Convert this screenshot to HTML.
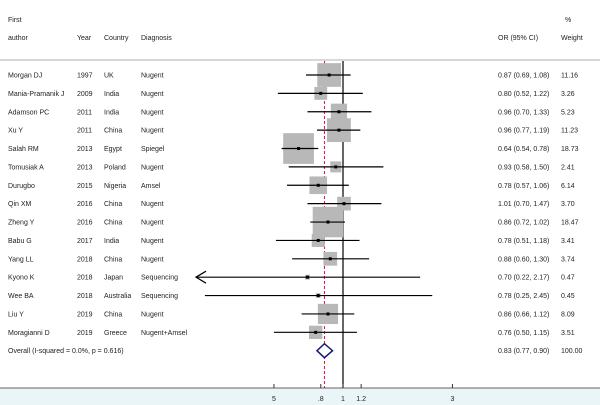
<!DOCTYPE html>
<html><head><meta charset="utf-8"><style>
html,body{margin:0;padding:0;background:#fff;}
svg{display:block;font-family:"Liberation Sans",sans-serif;}
</style></head><body>
<svg id="c" width="600" height="405" viewBox="0 0 600 405">
<rect x="0" y="388" width="600" height="17" fill="#e9f5f6"/>
<g font-size="7" fill="#222">
<text x="8" y="22">First</text>
<text x="8" y="40">author</text>
<text x="77" y="40">Year</text>
<text x="104" y="40">Country</text>
<text x="141" y="40">Diagnosis</text>
<text x="498" y="40">OR (95% CI)</text>
<text x="565" y="22">%</text>
<text x="561" y="40">Weight</text>
</g>
<line x1="0" y1="60" x2="600" y2="60" stroke="#999" stroke-width="0.8"/>
<g id="rows"></g>
<g id="axis"></g>
</svg>
<script>
const authors=["Morgan DJ","Mania-Pramanik J","Adamson PC","Xu Y","Salah RM","Tomusiak A","Durugbo","Qin XM","Zheng Y","Babu G","Yang LL","Kyono K","Wee BA","Liu Y","Moragianni D"];
const years=["1997","2009","2011","2011","2013","2013","2015","2016","2016","2017","2018","2018","2018","2019","2019"];
const countries=["UK","India","India","China","Egypt","Poland","Nigeria","China","China","India","China","Japan","Australia","China","Greece"];
const diagnoses=["Nugent","Nugent","Nugent","Nugent","Spiegel","Nugent","Amsel","Nugent","Nugent","Nugent","Nugent","Sequencing","Sequencing","Nugent","Nugent+Amsel"];
const ors=[0.87,0.80,0.96,0.96,0.64,0.93,0.78,1.01,0.86,0.78,0.88,0.70,0.78,0.86,0.76];
const lows=[0.69,0.52,0.70,0.77,0.54,0.58,0.57,0.70,0.72,0.51,0.60,0.22,0.25,0.66,0.50];
const highs=[1.08,1.22,1.33,1.19,0.78,1.50,1.06,1.47,1.02,1.18,1.30,2.17,2.45,1.12,1.15];
const weights=[11.16,3.26,5.23,11.23,18.73,2.41,6.14,3.70,18.47,3.41,3.74,0.47,0.45,8.09,3.51];
const pooled=[0.83,0.77,0.90];
const ticks=[0.5,0.8,1,1.2,3];
const tickLabels=["5",".8","1","1.2","3"];
const NS="http://www.w3.org/2000/svg";
const xs=v=>343+99.6*Math.log(v);
const ys=i=>75+i*18.38;
const XMIN=196;
function mk(p,t,a){const e=document.createElementNS(NS,t);for(const k in a)e.setAttribute(k,a[k]);p.appendChild(e);return e;}
const rows=document.getElementById('rows'),ax=document.getElementById('axis');
const fmt=v=>v.toFixed(2);
// reference lines
let l=mk(rows,'line',{x1:xs(1),y1:61,x2:xs(1),y2:388,stroke:'#000','stroke-width':1.2});


l=mk(rows,'line',{x1:xs(pooled[0]),y1:61,x2:xs(pooled[0]),y2:388,stroke:'#a0304a','stroke-width':1,'stroke-dasharray':'3,2'});


authors.forEach((a,i)=>{
  const y=ys(i);
  const g=mk(rows,'g',{});
  
  
  const cols=[[8,a],[77,years[i]],[104,countries[i]],[141,diagnoses[i]],[498,fmt(ors[i])+" ("+fmt(lows[i])+", "+fmt(highs[i])+")"],[561,fmt(weights[i])]];
  cols.forEach(c=>{const t=mk(g,'text',{x:c[0],y:y+2.5,'font-size':7,fill:'#222'});t.textContent=c[1];
    
    });
  const s=7.1*Math.sqrt(weights[i]);
  const b=mk(g,'rect',{x:xs(ors[i])-s/2,y:y-s/2,width:s,height:s,fill:'#b8b8b8'});
  
  
  let x1=xs(lows[i]),trunc=false;if(x1<XMIN){x1=XMIN;trunc=true;}
  const ln=mk(g,'line',{x1:x1,y1:y,x2:xs(highs[i]),y2:y,stroke:'#000','stroke-width':1.2});
  
  
  if(trunc){const ar=mk(g,'polyline',{points:(x1+10)+','+(y-6)+' '+x1+','+y+' '+(x1+10)+','+(y+6),fill:'none',stroke:'#000','stroke-width':1.2});
    
    }
  const d=mk(g,'rect',{x:xs(ors[i])-1.5,y:y-1.5,width:3,height:3,fill:'#000'});
  
  
});
const oy=ys(15);
[[8,"Overall  (I-squared = 0.0%, p = 0.616)"],[498,fmt(pooled[0])+" ("+fmt(pooled[1])+", "+fmt(pooled[2])+")"],[561,"100.00"]].forEach(c=>{
  const t=mk(rows,'text',{x:c[0],y:oy+2.5,'font-size':7,fill:'#222'});t.textContent=c[1];
  
  });
const dm=mk(rows,'polygon',{points:xs(pooled[1])+','+oy+' '+xs(pooled[0])+','+(oy-7)+' '+xs(pooled[2])+','+oy+' '+xs(pooled[0])+','+(oy+7),fill:'#fff',stroke:'#1a1a7a','stroke-width':1.5});


const al=mk(ax,'line',{x1:0,y1:388,x2:600,y2:388,stroke:'#333','stroke-width':0.8});


ticks.forEach((v,i)=>{
  const tk=mk(ax,'line',{x1:xs(v),y1:388,x2:xs(v),y2:384,stroke:'#333'});
  
  
  const t=mk(ax,'text',{x:xs(v),y:401,'font-size':7,fill:'#222','text-anchor':'middle'});t.textContent=tickLabels[i];
  
  
});
</script>
</body></html>
